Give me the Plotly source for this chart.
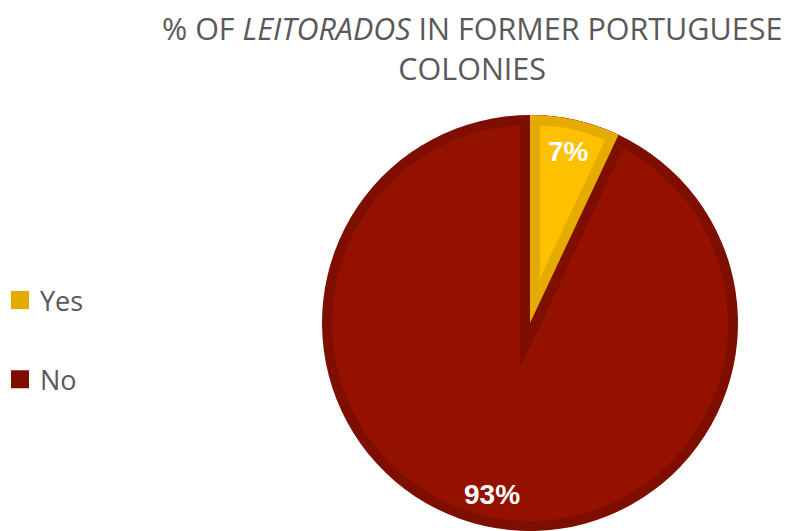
import math
import plotly.graph_objects as go

# ---- data -------------------------------------------------------------
labels = ["Yes", "No"]
shares = [7, 93]
fill_colors = ["#FFC000", "#941100"]
edge_colors = ["#E5AB00", "#7E0F00"]
title_text = "% OF <i>LEITORADOS</i> IN FORMER PORTUGUESE<br>COLONIES"

# ---- geometry (pixels) --------------------------------------------------
W, H = 789, 531
CX, CY, R = 530, 323, 208      # pie centre and outer radius
EDGE = 10                      # thickness of the inner slice border
CLEAR = "rgba(0,0,0,0)"
TEXT_GREY = "#595959"
FONT = "Open Sans"
LABEL_FONT = "Liberation Sans"

total = sum(shares)
fracs = [v / total for v in shares]


def clamp(v):
    return min(1.0, max(0.0, v))


def domain(cx, cy, r):
    return dict(x=[clamp((cx - r) / W), clamp((cx + r) / W)],
                y=[clamp((H - cy - r) / H), clamp((H - cy + r) / H)])


def wedge_layer(cx, cy, r, colors, line_colors=CLEAR, line_widths=0):
    return go.Pie(
        labels=labels, values=shares, sort=False, direction="clockwise",
        rotation=0, textinfo="none", hoverinfo="skip", showlegend=False,
        marker=dict(colors=colors, line=dict(color=line_colors, width=line_widths)),
        domain=domain(cx, cy, r),
    )


# Inner borders are mitred offsets of the slice edges: the apex of the
# inset shape moves along the slice bisector by EDGE / sin(half-angle).
half = math.pi * fracs[0]
ux, uy = math.sin(half), -math.cos(half)
shift = EDGE / math.sin(half)
r_inner = R - EDGE

yes_apex = (CX + shift * ux, CY + shift * uy)
edge_len = -shift * math.cos(half) + math.sqrt(r_inner ** 2 - EDGE ** 2)
yes_inset_r = (edge_len + (r_inner - shift)) / 2

no_apex = (CX - shift * ux, CY - shift * uy)
no_apex_r = min(150, H - no_apex[1] - 1)

fig = go.Figure()
# dark rim of the whole disc
fig.add_trace(wedge_layer(CX, CY, R, [edge_colors[1]] * 2))
# body of the "No" slice
fig.add_trace(wedge_layer(CX, CY, r_inner, [fill_colors[1]] * 2))
# dark band of the "No" slice along the "Yes" edges
fig.add_trace(wedge_layer(CX, CY, r_inner, [CLEAR, CLEAR],
                          line_colors=[edge_colors[1], CLEAR],
                          line_widths=[2 * EDGE, 0]))
fig.add_trace(wedge_layer(no_apex[0], no_apex[1], no_apex_r, [edge_colors[1], CLEAR]))
# "Yes" slice: dark border, then lighter body
fig.add_trace(wedge_layer(CX, CY, R, [edge_colors[0], CLEAR]))
fig.add_trace(wedge_layer(yes_apex[0], yes_apex[1], yes_inset_r, [fill_colors[0], CLEAR]))

# legend entries
for lab, col in zip(labels, edge_colors):
    fig.add_trace(go.Scatter(
        x=[None], y=[None], mode="markers", name=lab, legendgroup=lab,
        marker=dict(symbol="square", size=16, color=col, line=dict(color=col, width=2)),
        hoverinfo="skip",
    ))

# percentage labels along each slice bisector
cum = 0.0
for v, f in zip(shares, fracs):
    ang = 2 * math.pi * (cum + f / 2)
    cum += f
    px = CX + 0.845 * R * math.sin(ang)
    py = CY - 0.845 * R * math.cos(ang)
    fig.add_annotation(
        x=px / W, y=1 - py / H, xref="paper", yref="paper",
        text=f"<b>{round(100 * v / total)}%</b>", showarrow=False,
        xanchor="center", yanchor="middle",
        font=dict(family=LABEL_FONT, size=28, color="white"),
    )

# chart title
fig.add_annotation(
    x=472 / W, y=1 - 5 / H, xref="paper", yref="paper",
    xanchor="center", yanchor="top", showarrow=False,
    text=title_text, align="center",
    font=dict(family=FONT, size=30.5, color=TEXT_GREY),
)

fig.update_layout(
    width=W, height=H,
    margin=dict(l=0, r=0, t=0, b=0),
    paper_bgcolor="white", plot_bgcolor="white",
    xaxis=dict(visible=False), yaxis=dict(visible=False),
    legend=dict(x=0, xanchor="left", y=1 - 340 / H, yanchor="middle",
                font=dict(family=FONT, size=27, color=TEXT_GREY),
                bgcolor=CLEAR, tracegroupgap=41),
    showlegend=True,
)

fig.write_html("out.html")
